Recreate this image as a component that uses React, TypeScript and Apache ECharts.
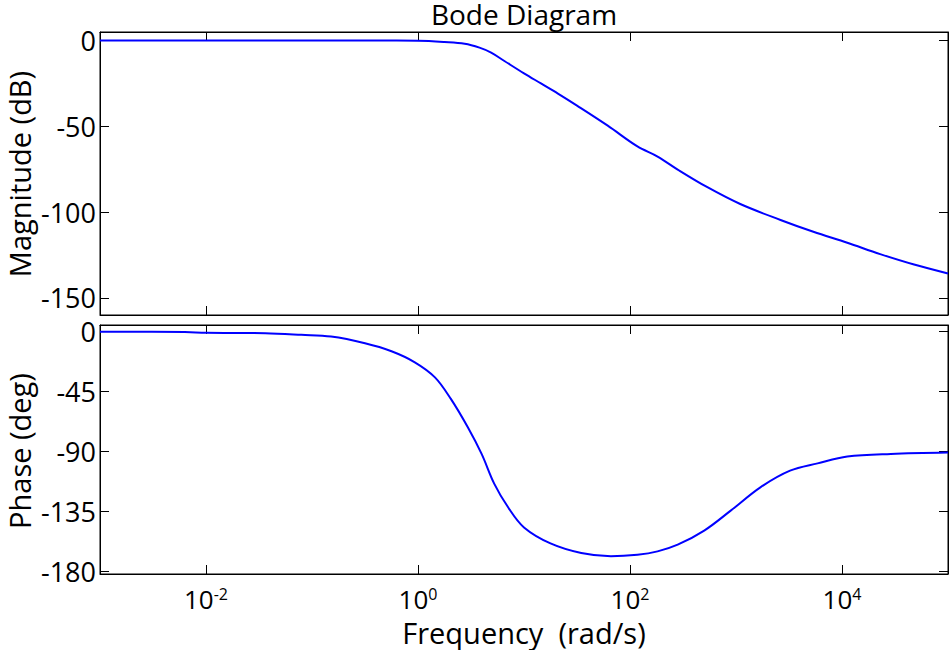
import React, { useEffect, useRef } from "react";
import * as echarts from "echarts";

// log10 of frequency (rad/s) and magnitude in dB
const magFreqExp = [-3, -2, -1, -0.4, 0, 0.25, 0.44, 0.58, 0.69, 0.815, 1.0, 1.16, 1.32, 1.5, 1.79, 2.07, 2.26, 2.45, 2.73, 3.04, 3.42, 3.73, 4.05, 4.36, 4.68, 5.0];
const magDb = [0, 0, 0, 0, -0.1, -0.8, -1.8, -4.1, -7.0, -11.9, -19.1, -25.0, -30.9, -37.9, -49.6, -61.7, -67.6, -75.2, -85.5, -95.3, -104.6, -111.5, -117.9, -124.5, -130.6, -135.8];

// log10 of frequency (rad/s) and phase in degrees
const phaseFreqExp = [-3, -2.2, -2, -1.44, -1.1, -0.82, -0.5, -0.25, -0.03, 0.16, 0.31, 0.47, 0.6, 0.72, 0.85, 1.0, 1.25, 1.54, 1.82, 2.07, 2.26, 2.45, 2.7, 2.95, 3.23, 3.51, 3.77, 4.05, 4.46, 5.0];
const phaseDeg = [0, -0.3, -0.8, -1.2, -2.4, -3.7, -8.7, -14.7, -23, -34.3, -50.5, -71.8, -91.8, -114.3, -131.9, -147, -159, -166.2, -168.6, -167.5, -165, -160, -149.4, -134.4, -116.9, -104.4, -98.9, -93.8, -91.8, -90.8];

const xTickExps = [-2, 0, 2, 4];
const magTicks = [-150, -100, -50, 0];
const phaseTicks = [-180, -135, -90, -45, 0];

const titleText = "Bode Diagram";
const magLabel = "Magnitude (dB)";
const phaseLabel = "Phase (deg)";
const freqLabel = "Frequency  (rad/s)";

const FONT = "'Open Sans', sans-serif";

export default function App() {
  const ref = useRef<HTMLDivElement>(null);
  useEffect(() => {
    if (!ref.current) return;
    const chart = echarts.init(ref.current, undefined, { renderer: "svg" });
    const lineColor = "#000";
    const tick = (values: number[]) => ({
      show: true,
      inside: true,
      length: 9,
      customValues: values,
      lineStyle: { color: lineColor, width: 1 },
    });
    const axisLine = { show: true, onZero: false, lineStyle: { color: lineColor, width: 1 } };
    const xBase = (gridIndex: number, position: string) => ({
      type: "value",
      gridIndex,
      position,
      min: -3,
      max: 5,
      axisLine,
      axisTick: tick(xTickExps),
      axisLabel: { show: false, customValues: xTickExps },
      splitLine: { show: false },
    });
    const yBase = (gridIndex: number, position: string, min: number, max: number, ticks: number[], showLabel: boolean) => ({
      type: "value",
      gridIndex,
      position,
      min,
      max,
      axisLine,
      axisTick: tick(ticks),
      axisLabel: {
        show: showLabel,
        customValues: ticks,
        margin: 4,
        fontFamily: FONT,
        fontSize: 27,
        lineHeight: 24,
        color: "#000",
      },
      splitLine: { show: false },
    });
    const bottomX: any = xBase(1, "bottom");
    bottomX.axisLabel = {
      show: true,
      customValues: xTickExps,
      margin: 12,
      formatter: (v: number) => `{b|10}{s|${v}}`,
      rich: {
        b: { fontFamily: FONT, fontSize: 26, lineHeight: 26, color: "#000", verticalAlign: "middle" },
        s: { fontFamily: FONT, fontSize: 16, lineHeight: 6, color: "#000", verticalAlign: "top" },
      },
    };
    const lineStyle = { color: "#0000ff", width: 2 };
    const option: any = {
      animation: false,
      backgroundColor: "#fff",
      grid: [
        { left: 100, top: 32, width: 848, height: 283, show: true, borderColor: "#000", borderWidth: 1 },
        { left: 100, top: 325, width: 848, height: 249, show: true, borderColor: "#000", borderWidth: 1 },
      ],
      xAxis: [xBase(0, "bottom"), xBase(0, "top"), bottomX, xBase(1, "top")],
      yAxis: [
        yBase(0, "left", -160, 5, magTicks, true),
        yBase(0, "right", -160, 5, magTicks, false),
        yBase(1, "left", -182, 5, phaseTicks, true),
        yBase(1, "right", -182, 5, phaseTicks, false),
      ],
      series: [
        {
          type: "line",
          xAxisIndex: 0,
          yAxisIndex: 0,
          data: magFreqExp.map((f, i) => [f, magDb[i]]),
          showSymbol: false,
          smooth: 0.35,
          lineStyle,
        },
        {
          type: "line",
          xAxisIndex: 2,
          yAxisIndex: 2,
          data: phaseFreqExp.map((f, i) => [f, phaseDeg[i]]),
          showSymbol: false,
          smooth: 0.35,
          lineStyle,
        },
      ],
      graphic: [
        {
          type: "text",
          x: 524,
          y: 14,
          style: { text: titleText, fontFamily: FONT, fontSize: 28, lineHeight: 22, fill: "#000", align: "center", verticalAlign: "middle" },
        },
        {
          type: "text",
          x: 19,
          y: 174,
          rotation: Math.PI / 2,
          style: { text: magLabel, fontFamily: FONT, fontSize: 29, lineHeight: 24, fill: "#000", align: "center", verticalAlign: "middle" },
        },
        {
          type: "text",
          x: 19,
          y: 451,
          rotation: Math.PI / 2,
          style: { text: phaseLabel, fontFamily: FONT, fontSize: 29, lineHeight: 24, fill: "#000", align: "center", verticalAlign: "middle" },
        },
        {
          type: "text",
          x: 524,
          y: 632,
          style: { text: freqLabel, fontFamily: FONT, fontSize: 29, lineHeight: 24, fill: "#000", align: "center", verticalAlign: "middle" },
        },
      ],
    };
    chart.setOption(option);
    return () => chart.dispose();
  }, []);
  return (
    <div
      ref={ref}
      style={{ position: "absolute", left: 0, top: 0, width: 952, height: 650 }}
    />
  );
}
